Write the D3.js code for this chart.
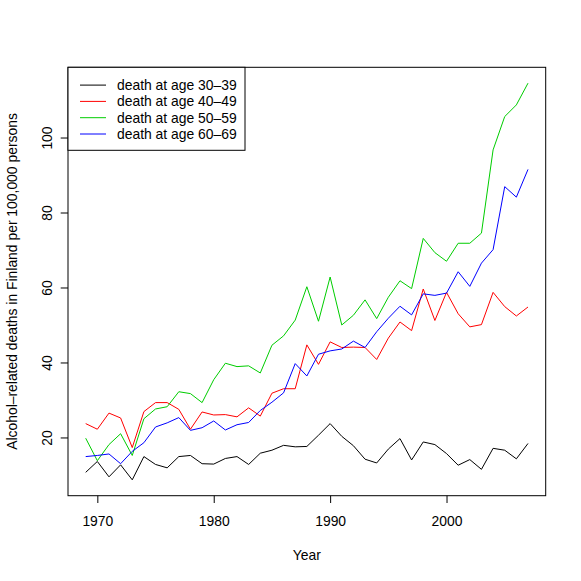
<!DOCTYPE html>
<html>
<head>
<meta charset="utf-8">
<script src="https://cdn.jsdelivr.net/npm/d3@7"></script>
<style>
  body { margin: 0; background: #fff; }
  text { font-family: "Liberation Sans", Arial, Helvetica, sans-serif; }
</style>
</head>
<body>
<svg id="chart"></svg>
<script>
var width = 581
var height = 581
var margin = {top: 67.3, right: 35.3, bottom: 85.3, left: 68};
var innerW = width - margin.left - margin.right;
var innerH = height - margin.top - margin.bottom;
var fontSize = 13.9;

// data
var years = [1969,1970,1971,1972,1973,1974,1975,1976,1977,1978,1979,1980,1981,1982,1983,1984,1985,1986,1987,1988,
             1989,1990,1991,1992,1993,1994,1995,1996,1997,1998,1999,2000,2001,2002,2003,2004,2005,2006,2007];
var age30 = [10.7,13.6,9.5,12.7,8.7,14.9,12.8,11.9,14.9,15.2,13.0,12.9,14.4,14.9,12.8,15.8,16.6,17.9,17.5,17.6,
             20.6,23.7,20.3,17.8,14.2,13.2,16.9,19.7,14.0,18.8,18.1,15.7,12.6,14.1,11.5,17.1,16.6,14.3,18.4];
var age40 = [23.7,22.2,26.5,25.2,17.3,26.9,29.3,29.3,27.5,22.2,26.8,26.0,26.1,25.5,27.9,25.7,31.8,33.0,33.0,44.7,
             39.5,45.5,44.0,44.1,44.0,40.8,46.5,50.8,48.5,59.6,51.2,58.7,53.0,49.5,50.1,58.7,54.9,52.4,54.8];
var age50 = [19.8,13.8,18.1,21.0,15.2,25.0,27.6,28.2,32.2,31.7,29.3,35.4,39.8,38.9,39.1,37.2,44.6,47.1,51.3,60.2,
             51.0,62.8,50.0,52.6,56.7,51.7,57.4,61.8,59.7,73.1,69.3,67.0,71.8,71.8,74.5,96.7,105.6,108.7,114.5];
var age60 = [14.9,15.2,15.6,13.0,16.3,18.6,22.8,23.9,25.3,21.9,22.6,24.4,22.0,23.4,24.0,27.2,29.4,31.9,39.7,36.4,
             42.2,43.1,43.6,45.7,44.0,48.2,51.8,55.0,52.7,58.3,57.9,58.5,64.2,60.3,66.5,70.1,86.9,84.1,91.5];

var seriesNames = ["death at age 30\u201339", "death at age 40\u201349", "death at age 50\u201359", "death at age 60\u201369"];
var seriesColors = ["#000000", "#FF0000", "#00CD00", "#0000FF"];
var seriesValues = [age30, age40, age50, age60];

var xTicks = [1970, 1980, 1990, 2000];
var yTicks = [20, 40, 60, 80, 100];
var xLabel = "Year";
var yLabel = "Alcohol\u2013related deaths in Finland per 100,000 persons";

var svg = d3.select("#chart")
  .attr("width", width)
  .attr("height", height);

var chart = svg.append("g")
  .attr("transform", "translate(" + margin.left + "," + margin.top + ")");

// R style: 4% padding on both ends
var xExt = d3.extent(years);
var xPad = (xExt[1] - xExt[0]) * 0.04;
var allVals = [].concat(age30, age40, age50, age60);
var yExt = d3.extent(allVals);
var yPad = (yExt[1] - yExt[0]) * 0.04;

var xScale = d3.scaleLinear()
  .domain([xExt[0] - xPad, xExt[1] + xPad])
  .range([0, innerW]);
var yScale = d3.scaleLinear()
  .domain([yExt[0] - yPad, yExt[1] + yPad])
  .range([innerH, 0]);

// lines
var line = d3.line()
  .x(function(d, i){ return xScale(years[i]); })
  .y(function(d){ return yScale(d); });

seriesValues.forEach(function(vals, k){
  chart.append("path")
    .datum(vals)
    .attr("fill", "none")
    .attr("stroke", seriesColors[k])
    .attr("stroke-width", 1)
    .attr("d", line);
});

// axes
var xAxis = d3.axisBottom(xScale).tickValues(xTicks).tickSize(7.3).tickPadding(13.6).tickFormat(d3.format("d"));
var yAxis = d3.axisLeft(yScale).tickValues(yTicks).tickSize(7.3).tickFormat(d3.format("d"));

var gx = chart.append("g")
  .attr("transform", "translate(0," + innerH + ")")
  .call(xAxis);
gx.select(".domain").remove();
gx.selectAll("line").attr("stroke", "#000");
gx.selectAll("text")
  .attr("fill", "#000")
  .attr("font-size", fontSize)
  .attr("font-family", "Liberation Sans, Arial, sans-serif");

var gy = chart.append("g").call(yAxis);
gy.select(".domain").remove();
gy.selectAll("line").attr("stroke", "#000");
gy.selectAll("text")
  .attr("fill", "#000")
  .attr("font-size", fontSize)
  .attr("font-family", "Liberation Sans, Arial, sans-serif")
  .attr("x", 0)
  .attr("dy", null)
  .attr("text-anchor", "middle")
  .attr("transform", "translate(-16.4,0) rotate(-90)");

// box
chart.append("rect")
  .attr("x", 0)
  .attr("y", 0)
  .attr("width", innerW)
  .attr("height", innerH)
  .attr("fill", "none")
  .attr("stroke", "#000")
  .attr("stroke-width", 1);

// axis titles
svg.append("text")
  .attr("x", margin.left + innerW / 2)
  .attr("y", 559.5)
  .attr("text-anchor", "middle")
  .attr("font-size", fontSize)
  .text(xLabel);

svg.append("text")
  .attr("transform", "translate(16.7," + (margin.top + innerH / 2) + ") rotate(-90)")
  .attr("text-anchor", "middle")
  .attr("font-size", fontSize)
  .text(yLabel);

// legend
var legend = chart.append("g");
legend.append("rect")
  .attr("x", 0)
  .attr("y", 0)
  .attr("width", 177)
  .attr("height", 83)
  .attr("fill", "#fff")
  .attr("stroke", "#000")
  .attr("stroke-width", 1);

var rows = legend.selectAll(".row")
  .data(seriesNames)
  .enter()
  .append("g")
  .attr("class", "row")
  .attr("transform", function(d, i){ return "translate(0," + (17.8 + i * 16.3) + ")"; });

rows.append("line")
  .attr("x1", 12)
  .attr("x2", 38)
  .attr("y1", 0)
  .attr("y2", 0)
  .attr("stroke", function(d, i){ return seriesColors[i]; })
  .attr("stroke-width", 1);

rows.append("text")
  .attr("x", 49)
  .attr("y", 0)
  .attr("dy", "0.36em")
  .attr("font-size", fontSize)
  .text(function(d){ return d; });
</script>
</body>
</html>
